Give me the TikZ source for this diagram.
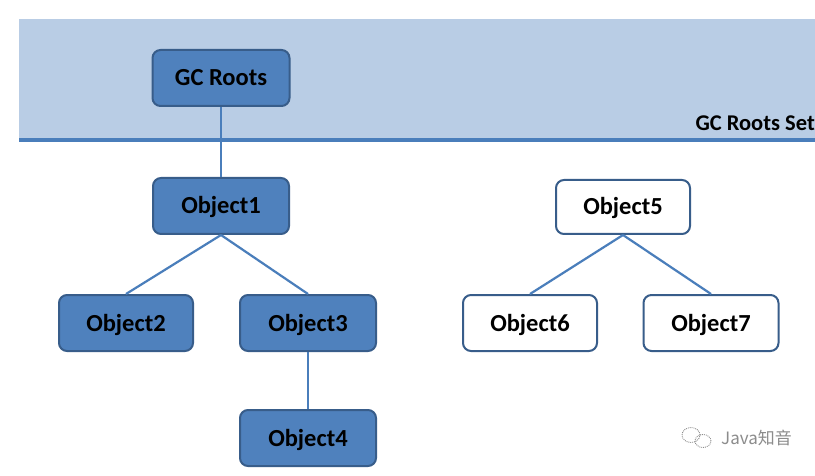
\documentclass[tikz,border=0pt]{standalone}
\usepackage{fontspec}
\setmainfont{Carlito}
\newfontfamily\cjk{Noto Sans CJK SC}
\definecolor{band}{HTML}{B9CDE5}
\definecolor{bandline}{HTML}{4A7EBB}
\definecolor{nodefill}{HTML}{4F81BD}
\definecolor{nodeedge}{HTML}{385D8A}
\definecolor{wire}{HTML}{4A7EBB}
\definecolor{wm}{HTML}{8C8C8C}
\tikzset{
  objbox/.style={draw=nodeedge, line width=2pt, rounded corners=8pt,
    minimum width=136pt, minimum height=56pt, inner sep=0pt,
    text height=16pt, text depth=0pt,
    font=\fontsize{24.5}{27}\selectfont\bfseries},
  darkbox/.style={objbox, fill=nodefill},
  lightbox/.style={objbox, fill=white},
  link/.style={draw=wire, line width=2.2pt}
}
\begin{document}
\begin{tikzpicture}[x=1pt,y=-1pt]
\useasboundingbox (0,0) rectangle (815,476);
\fill[white] (0,0) rectangle (815,476);
\fill[band] (19,19) rectangle (815,139);
\draw[bandline, line width=3.2pt] (19,140) -- (815,140);
\node[anchor=base east, font=\fontsize{22.5}{25}\selectfont\bfseries, inner sep=0pt] (setlabel) at (815,131) {GC Roots Set};

\node[darkbox, minimum width=137pt] (roots) at (221,78) {GC Roots};
\node[darkbox] (o1) at (221,206) {Object1};
\node[darkbox, minimum width=134pt] (o2) at (126,323) {Object2};
\node[darkbox] (o3) at (308,323) {Object3};
\node[darkbox] (o4) at (308,438) {Object4};
\node[lightbox, minimum width=134pt, minimum height=54pt] (o5) at (623,207) {Object5};
\node[lightbox, minimum width=134pt] (o6) at (530,323) {Object6};
\node[lightbox, minimum width=135pt] (o7) at (711,323) {Object7};

\draw[link] (roots.south) -- (o1.north);
\draw[link] (o1.south) -- (o2.north);
\draw[link] (o1.south) -- (o3.north);
\draw[link] (o3.south) -- (o4.north);
\draw[link] (o5.south) -- (o6.north);
\draw[link] (o5.south) -- (o7.north);

% watermark
\draw[wm, line width=0.9pt, densely dotted] (691,435) ellipse [x radius=9pt, y radius=7.5pt];
\draw[wm, line width=0.9pt, densely dotted] (703,441) ellipse [x radius=8pt, y radius=6.5pt];
\node[anchor=west, text=wm, font=\fontsize{17}{20}\selectfont\cjk, inner sep=0pt] (wmtext) at (721,438) {Java知音};
\end{tikzpicture}
\end{document}
